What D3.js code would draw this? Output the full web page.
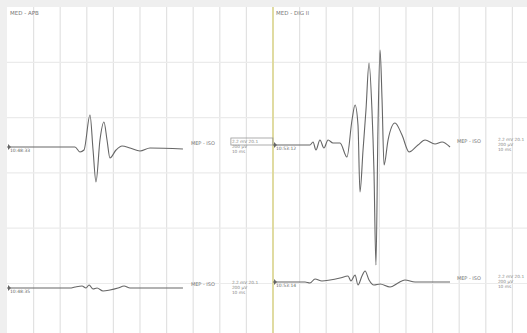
<!DOCTYPE html>
<html><head><meta charset="utf-8">
<script src="https://cdn.jsdelivr.net/npm/d3@7"></script>
<style>html,body{margin:0;padding:0;background:#efefef;}svg{display:block;}</style>
</head><body>
<svg id="c" width="527" height="333"></svg>
<script>
// ---- data (time in ms, amplitude in mV) ----
const panelTitles = ["MED - APB", "MED - DIG II"];
const traceNames = ["MEP - ISO", "MEP - ISO", "MEP - ISO", "MEP - ISO"];
const startTimes = ["10:48:33", "10:53:12", "10:48:35", "10:53:14"];
const gainLabels = ["2.2 mV 20.1", "200 µV", "10 ms"];

const topLeftT = [0, 5.11, 5.49, 5.79, 6.24, 6.47, 6.69, 6.99, 7.29, 7.52, 7.74, 8.20, 8.65, 9.25, 10.0, 10.75, 13.23];
const topLeftV = [0, 0, -0.45, -0.27, 2.89, -0.27, -3.16, 0.63, 2.26, 0.63, -0.99, -0.27, 0.09, -0.09, -0.36, -0.09, -0.18];

const topRightT = [0, 2.78, 3.01, 3.23, 3.53, 3.83, 4.14, 4.51, 5.04, 5.56, 5.94, 6.17, 6.39, 6.54, 6.77, 6.99, 7.22, 7.44, 7.59, 7.74, 7.89, 8.05, 8.20, 8.35, 8.65, 9.17, 9.70, 10.23, 10.90, 11.43, 12.18, 12.71, 13.31];
const topRightV = [0, 0, 0.27, -0.45, 0.45, -0.27, 0.45, 0.18, 0.18, -1.08, 2.26, 3.62, 1.81, -4.25, -0.45, 3.16, 7.41, 3.16, -2.26, -10.85, 1.36, 8.59, 4.07, -1.81, 0.45, 1.99, 0.90, -0.63, 0, 0.45, 0.09, 0.27, -0.18];

const botLeftT = [0, 4.74, 5.11, 5.64, 5.94, 6.17, 6.47, 6.77, 7.22, 7.74, 8.35, 8.80, 9.25, 13.23];
const botLeftV = [0, 0, 0.09, 0.18, 0, 0.27, -0.09, 0, -0.27, -0.18, 0, 0.18, 0, 0];

const botRightT = [0, 2.41, 2.78, 3.16, 3.68, 4.29, 5.04, 5.64, 5.86, 6.17, 6.39, 6.69, 6.92, 7.22, 7.59, 8.05, 8.80, 9.40, 9.92, 10.68, 13.31];
const botRightV = [0, 0, -0.09, 0.27, 0.09, 0.18, 0.36, 0.54, 0.09, 0.63, -0.27, 0.54, 0.99, 0.18, -0.27, -0.18, -0.45, -0.09, 0.18, 0, 0];

// ---- layout ----
const svg = d3.select("#c");
const L = 7, T = 7, W = 520, H = 326;
const divX = 26.6, divY = 55.3;
svg.append("rect").attr("x", L).attr("y", T).attr("width", W).attr("height", H).attr("fill", "#fff");

const panelX = [7, 273];
const xScales = panelX.map(x0 => d3.scaleLinear().domain([0, 20]).range([x0, x0 + 10 * divX]));
const yGrid = d3.scaleLinear().domain([0, 6]).range([T, T + 6 * divY]);

const g = svg.append("g");
// vertical grid
xScales.forEach((xs, i) => {
  d3.range(0, 20, 2).forEach(t => {
    const x = xs(t);
    if (x <= L + 0.5 || x > L + W) return;
    g.append("line").attr("x1", x).attr("x2", x).attr("y1", T).attr("y2", T + H)
      .attr("stroke", "#e2e2e2").attr("stroke-width", 1.2);
  });
});
// horizontal grid
d3.range(1, 6).forEach(k => {
  const y = yGrid(k);
  g.append("line").attr("x1", L).attr("x2", L + W).attr("y1", y).attr("y2", y)
    .attr("stroke", "#ebebeb").attr("stroke-width", 1.2);
});
// panel separator (yellow)
g.append("line").attr("x1", xScales[1](0)).attr("x2", xScales[1](0)).attr("y1", T).attr("y2", T + H)
  .attr("stroke", "#dcd68e").attr("stroke-width", 1.6);

// titles
panelTitles.forEach((t, i) => {
  svg.append("text").attr("x", panelX[i] + 3).attr("y", 15).text(t)
    .attr("font-family", "DejaVu Sans").attr("font-size", 5.5).attr("fill", "#777");
});

const traces = [
  {p: 0, base: 147, T: topLeftT, V: topLeftV},
  {p: 1, base: 145, T: topRightT, V: topRightV},
  {p: 0, base: 288, T: botLeftT, V: botLeftV},
  {p: 1, base: 282, T: botRightT, V: botRightV}
];
const mvPx = divY / 5; // 5 mV per division

traces.forEach((tr, i) => {
  const xs = xScales[tr.p];
  const ys = d3.scaleLinear().domain([-1, 1]).range([tr.base + mvPx, tr.base - mvPx]);
  const pts = tr.T.map((t, j) => [t, tr.V[j]]);
  const line = d3.line().x(d => xs(d[0])).y(d => ys(d[1])).curve(d3.curveMonotoneX);
  svg.append("path").attr("d", line(pts)).attr("fill", "none")
    .attr("stroke", "#666").attr("stroke-width", 1.1);
  // start marker and time
  const x0 = xs(0), y0 = ys(0);
  svg.append("path").attr("d", `M${x0+1},${y0-3}L${x0+4},${y0}L${x0+1},${y0+3}Z`).attr("fill", "#666");
  svg.append("text").attr("x", x0 + 3).attr("y", y0 + 5).text(startTimes[i])
    .attr("font-family", "DejaVu Sans").attr("font-size", 4.5).attr("fill", "#666");
  // trace name at the end
  const xe = xs(13.3) + 7;
  svg.append("text").attr("x", xe).attr("y", y0 - 2).text(traceNames[i])
    .attr("font-family", "DejaVu Sans").attr("font-size", 5).attr("fill", "#777");
  // gain block
  const xb = xs(13.3) + 48;
  const blk = svg.append("g").attr("font-family", "DejaVu Sans").attr("font-size", 4.3).attr("fill", "#888");
  gainLabels.forEach((s, k) => {
    blk.append("text").attr("x", xb).attr("y", y0 - 4 + k * 5).text(s);
  });
  if (i === 0) {
    svg.append("rect").attr("x", xb - 1).attr("y", y0 - 9).attr("width", 42).attr("height", 7)
      .attr("fill", "none").attr("stroke", "#999").attr("stroke-width", 0.8);
  }
});
</script>
</body></html>
